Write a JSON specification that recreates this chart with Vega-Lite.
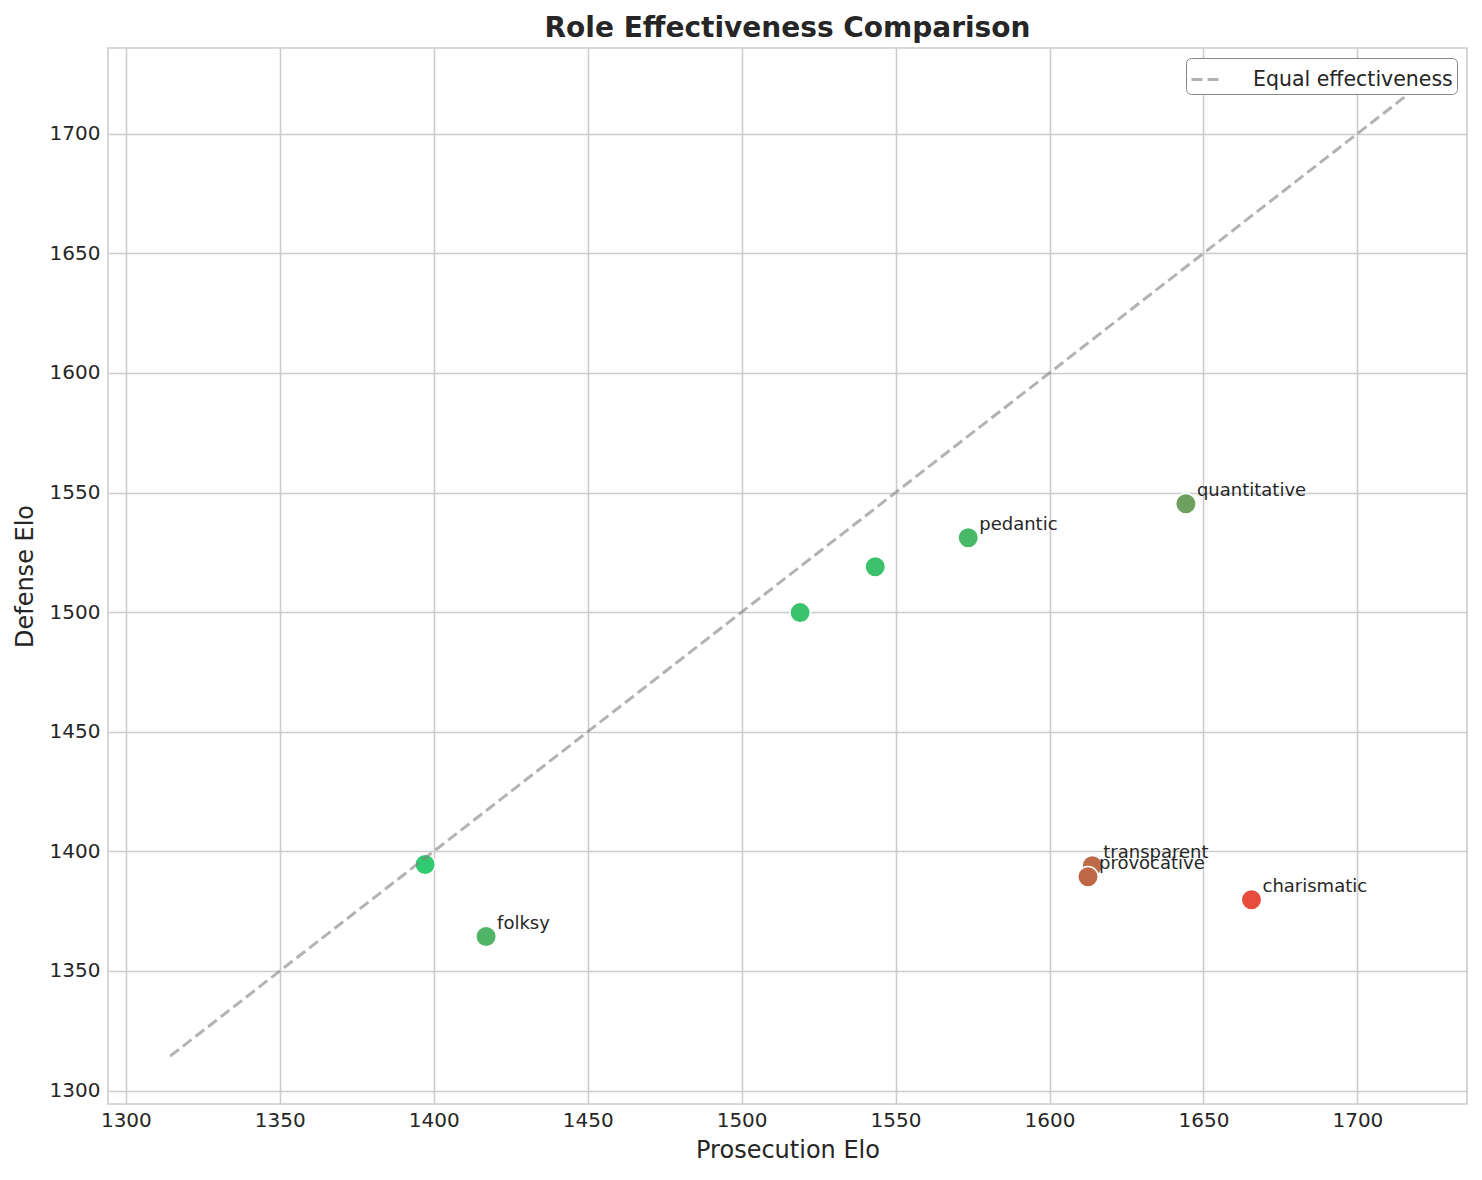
{
  "$schema": "https://vega.github.io/schema/vega-lite/v6.json",
  "autosize": {"type": "none"},
  "width": 1359,
  "height": 1056,
  "padding": {"left": 108, "top": 48, "right": 15, "bottom": 76},
  "background": "white",
  "title": {
    "text": "Role Effectiveness Comparison",
    "fontSize": 28,
    "fontWeight": "bold",
    "color": "#262626",
    "anchor": "middle",
    "offset": 5,
    "font": "DejaVu Sans"
  },
  "config": {
    "font": "DejaVu Sans",
    "view": {"stroke": "#cccccc", "strokeWidth": 1.6},
    "axis": {
      "domain": false,
      "ticks": false,
      "grid": true,
      "gridColor": "#cccccc",
      "gridWidth": 1.6,
      "labelFontSize": 20,
      "labelColor": "#262626",
      "titleFontSize": 24,
      "titleFontWeight": "normal",
      "titleColor": "#262626",
      "labelFont": "DejaVu Sans",
      "titleFont": "DejaVu Sans",
      "format": "d"
    }
  },
  "layer": [
    {
      "data": {
        "values": [
          {"prosecution": 1397.2, "defense": 1394.5, "gap": 3, "label": ""},
          {"prosecution": 1417.0, "defense": 1364.4, "gap": 53, "label": "folksy"},
          {"prosecution": 1519.0, "defense": 1499.8, "gap": 19, "label": ""},
          {"prosecution": 1543.4, "defense": 1519.0, "gap": 24, "label": ""},
          {"prosecution": 1573.6, "defense": 1531.1, "gap": 42, "label": "pedantic"},
          {"prosecution": 1644.3, "defense": 1545.3, "gap": 99, "label": "quantitative"},
          {"prosecution": 1613.9, "defense": 1394.0, "gap": 220, "label": "transparent"},
          {"prosecution": 1612.5, "defense": 1389.4, "gap": 223, "label": "provocative"},
          {"prosecution": 1665.6, "defense": 1379.8, "gap": 286, "label": "charismatic"}
        ]
      },
      "layer": [
        {
          "mark": {"type": "point", "shape": "circle", "filled": true, "size": 420, "opacity": 1, "stroke": "white", "strokeWidth": 1.5},
          "encoding": {
            "x": {
              "field": "prosecution", "type": "quantitative",
              "title": "Prosecution Elo",
              "scale": {"domain": [1294.2, 1735.6], "nice": false, "zero": false},
              "axis": {"values": [1300, 1350, 1400, 1450, 1500, 1550, 1600, 1650, 1700], "labelPadding": 6, "titlePadding": 8}
            },
            "y": {
              "field": "defense", "type": "quantitative",
              "title": "Defense Elo",
              "scale": {"domain": [1294.4, 1735.8], "nice": false, "zero": false},
              "axis": {"values": [1300, 1350, 1400, 1450, 1500, 1550, 1600, 1650, 1700], "labelPadding": 8, "titlePadding": 12}
            },
            "fill": {
              "field": "gap", "type": "quantitative",
              "scale": {"domain": [0, 286], "range": ["#2ecc71", "#e74c3c"], "interpolate": "rgb"},
              "legend": null
            }
          }
        },
        {
          "mark": {"type": "text", "align": "left", "baseline": "alphabetic", "dx": 11, "dy": -8, "fontSize": 18, "color": "#262626"},
          "encoding": {
            "x": {"field": "prosecution", "type": "quantitative"},
            "y": {"field": "defense", "type": "quantitative"},
            "text": {"field": "label"}
          }
        }
      ]
    },
    {
      "data": {"values": [{"x": 1314.4, "y": 1314.4}, {"x": 1715.6, "y": 1715.6}]},
      "mark": {"type": "line", "strokeDash": [11, 5], "strokeWidth": 3, "strokeOpacity": 0.6},
      "encoding": {
        "x": {"field": "x", "type": "quantitative"},
        "y": {"field": "y", "type": "quantitative"},
        "stroke": {
          "datum": "Equal effectiveness",
          "type": "nominal",
          "scale": {"range": ["#808080"]},
          "legend": {
            "title": null,
            "orient": "top-right",
            "offset": 10,
            "symbolType": "stroke",
            "symbolSize": 1024,
            "symbolStrokeWidth": 3,
            "symbolDash": [11, 5],
            "symbolOpacity": 0.6,
            "labelFontSize": 20.5,
            "labelLimit": 0,
            "labelColor": "#262626",
            "labelOffset": 28,
            "fillColor": "white",
            "strokeColor": "#888888",
            "cornerRadius": 5,
            "padding": 4
          }
        }
      }
    }
  ]
}
